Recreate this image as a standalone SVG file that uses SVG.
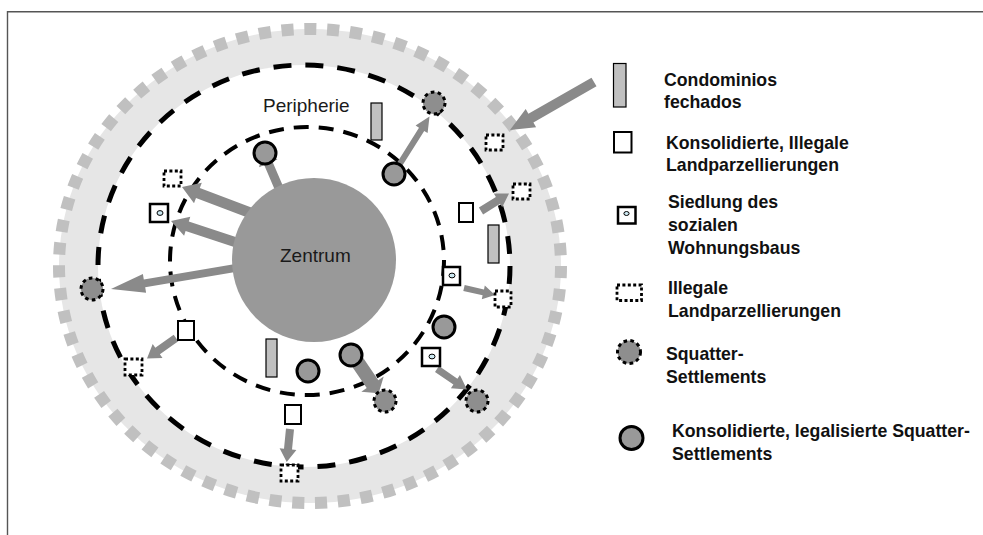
<svg xmlns="http://www.w3.org/2000/svg" width="983" height="535" viewBox="0 0 983 535">
<style>
  .frame{stroke:#555;stroke-width:1.4;fill:none}
  .band{fill:#e6e6e6}
  .ticks{fill:none;stroke:#c0c0c0;stroke-width:12;stroke-dasharray:5.3 4.7}
  .ring1{fill:#fff;stroke:#000;stroke-width:5;stroke-dasharray:18 14}
  .ring2{fill:none;stroke:#000;stroke-width:4;stroke-dasharray:15 10}
  .zentrum{fill:#999}
  .arrow{fill:#8a8a8a;stroke:none}
  .sq{fill:#8e8e8e;stroke:#000;stroke-width:3;stroke-dasharray:3.6 3.3}
  .cons{fill:#999;stroke:#000;stroke-width:3}
  .ill{fill:#fff;stroke:#000;stroke-width:2.8;stroke-dasharray:3 2.4}
  .kons{fill:#fff;stroke:#000;stroke-width:2}
  .sied{fill:#fff;stroke:#000;stroke-width:2.5}
  .dot{fill:#cde9f2;stroke:#000;stroke-width:1}
  .condo{fill:#c0c0c0;stroke:#000;stroke-width:1.2}
  .lbl{font-family:"Liberation Sans",Arial,sans-serif;font-size:19px;fill:#1a1a1a}
  .leg{font-family:"Liberation Sans",Arial,sans-serif;font-size:17.7px;font-weight:bold;fill:#111}
</style>

<g id="frame">
  <line class="frame" x1="7.5" y1="11.7" x2="983" y2="11.7"/>
  <line class="frame" x1="7.5" y1="11" x2="7.5" y2="535"/>
</g>

<g id="rings">
  <ellipse class="band" cx="310" cy="266" rx="251" ry="237"/>
  <ellipse class="ticks" cx="310" cy="266" rx="251" ry="237" pathLength="670"/>
  <ellipse class="ring1" cx="304" cy="266" rx="206" ry="201"/>
  <ellipse class="ring2" cx="307" cy="261" rx="137" ry="134"/>
</g>

<g id="connectors">
  <polygon class="arrow" points="263.4,212.0 199.8,187.9 201.8,182.7 182,187 194.0,203.3 196.0,198.1 259.6,222.2"/>
  <polygon class="arrow" points="248.6,241.3 188.8,221.6 190.3,216.8 171,221 184.1,235.8 185.6,231.1 245.4,250.8"/>
  <polygon class="arrow" points="258.2,260.1 143.8,279.4 142.9,273.9 111,289 146.1,292.7 145.2,287.2 259.6,267.9"/>
  <polygon class="arrow" points="288.2,198.3 272.4,161.5 277.5,159.4 262.8,150.4 259.1,167.2 264.2,165.1 280.0,201.9"/>
  <polygon class="arrow" points="398.6,171.6 424.2,130.9 427.6,133.0 429.5,116.5 415.6,125.6 419.0,127.7 393.4,168.4"/>
  <polygon class="arrow" points="591.5,77.7 528.4,113.8 525.7,109.0 510,130 536.1,127.2 533.4,122.4 596.5,86.3"/>
  <polygon class="arrow" points="483.1,214.4 500.1,203.8 502.2,207.2 509,193.5 493.8,193.6 495.9,197.0 478.9,207.6"/>
  <polygon class="arrow" points="463.3,290.9 482.6,295.3 481.8,299.2 495,295 484.8,285.6 484.0,289.5 464.7,285.1"/>
  <polygon class="arrow" points="435.0,371.9 453.4,384.5 450.9,388.2 467,389.5 459.9,375.0 457.4,378.7 439.0,366.1"/>
  <polygon class="arrow" points="351.0,364.9 366.7,388.1 361.3,391.8 378.7,393.3 383.7,376.6 378.3,380.3 362.6,357.1"/>
  <polygon class="arrow" points="173.7,334.7 155.3,347.7 152.7,344.1 147,358.5 162.5,357.9 159.9,354.3 178.3,341.3"/>
  <polygon class="arrow" points="286.0,428.6 284.0,448.7 279.6,448.2 286.7,462 296.4,450.0 292.0,449.5 294.0,429.4"/>
</g>

<g id="zentrum">
  <circle class="zentrum" cx="314" cy="260" r="82"/>
  <text class="lbl" x="280" y="262">Zentrum</text>
</g>
<g id="peripherie">
  <text class="lbl" x="263" y="112">Peripherie</text>
</g>

<g id="condominios">
  <rect class="condo" x="371" y="103" width="11" height="37"/>
  <rect class="condo" x="488" y="225" width="11" height="38"/>
  <rect class="condo" x="266" y="339" width="11" height="38"/>
</g>

<g id="konsolidierte">
  <rect class="kons" x="459" y="203" width="14" height="19"/>
  <rect class="kons" x="178" y="321" width="16" height="19"/>
  <rect class="kons" x="285" y="405" width="16" height="19"/>
</g>

<g id="siedlungen">
  <rect class="sied" x="150" y="204" width="18" height="18"/>
  <ellipse class="dot" cx="160" cy="213" rx="3" ry="2.4"/>
  <rect class="sied" x="443" y="267" width="17" height="18"/>
  <ellipse class="dot" cx="452" cy="275.5" rx="3" ry="2.4"/>
  <rect class="sied" x="422" y="348" width="18" height="18"/>
  <ellipse class="dot" cx="432" cy="356.5" rx="3" ry="2.4"/>
</g>

<g id="illegale">
  <rect class="ill" x="164" y="171" width="17" height="15"/>
  <rect class="ill" x="486" y="135" width="17" height="15"/>
  <rect class="ill" x="513" y="184" width="17" height="15"/>
  <rect class="ill" x="495" y="291" width="16" height="16"/>
  <rect class="ill" x="125" y="359" width="17" height="16"/>
  <rect class="ill" x="281" y="465" width="17" height="16"/>
</g>

<g id="squatter">
  <circle class="sq" cx="434" cy="103" r="11"/>
  <circle class="sq" cx="92" cy="289" r="11"/>
  <circle class="sq" cx="385" cy="401" r="11"/>
  <circle class="sq" cx="477" cy="401" r="11"/>
</g>

<g id="legalisierte">
  <circle class="cons" cx="265" cy="153" r="11"/>
  <circle class="cons" cx="394" cy="174" r="11"/>
  <circle class="cons" cx="444" cy="327" r="11"/>
  <circle class="cons" cx="351" cy="355" r="11"/>
  <circle class="cons" cx="308" cy="371" r="11"/>
</g>

<g id="legend">
  <g id="leg-condo">
    <rect class="condo" x="613.5" y="63.5" width="12.5" height="43.5"/>
    <text class="leg" x="664" y="85.5">Condominios</text>
    <text class="leg" x="664" y="107.5">fechados</text>
  </g>
  <g id="leg-kons">
    <rect class="kons" x="614" y="132" width="17.5" height="20.5"/>
    <text class="leg" x="666" y="149">Konsolidierte, Illegale</text>
    <text class="leg" x="666" y="171">Landparzellierungen</text>
  </g>
  <g id="leg-sied">
    <rect class="sied" x="618" y="207" width="17.5" height="16.5"/>
    <ellipse class="dot" cx="626.5" cy="213.5" rx="2.6" ry="2"/>
    <text class="leg" x="668" y="207.5">Siedlung des</text>
    <text class="leg" x="668" y="230.5">sozialen</text>
    <text class="leg" x="668" y="253.5">Wohnungsbaus</text>
  </g>
  <g id="leg-ill">
    <rect class="ill" x="617" y="285" width="24.5" height="15.5"/>
    <text class="leg" x="668" y="294">Illegale</text>
    <text class="leg" x="668" y="316.5">Landparzellierungen</text>
  </g>
  <g id="leg-sq">
    <circle class="sq" cx="629" cy="352" r="11.5"/>
    <text class="leg" x="666" y="360">Squatter-</text>
    <text class="leg" x="666" y="382.5">Settlements</text>
  </g>
  <g id="leg-cons">
    <circle class="cons" cx="631.5" cy="438" r="11.5"/>
    <text class="leg" x="672" y="436.5">Konsolidierte, legalisierte Squatter-</text>
    <text class="leg" x="672" y="459.5">Settlements</text>
  </g>
</g>
</svg>
